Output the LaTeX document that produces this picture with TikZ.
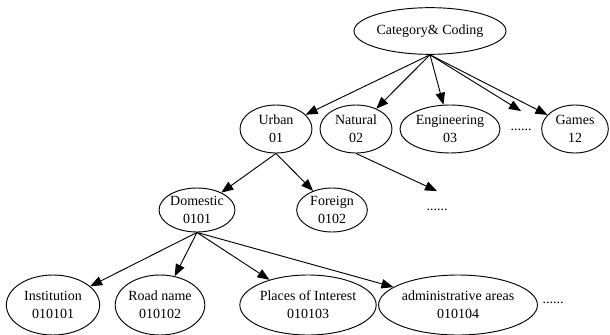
\documentclass[tikz,border=0pt]{standalone}
\usepackage{fontspec}
\setmainfont{Liberation Serif}
\usetikzlibrary{shapes.geometric,arrows.meta}
\begin{document}
\begin{tikzpicture}[x=0.75pt,y=-0.75pt,
  every node/.style={font=\fontsize{10.5}{13.5}\selectfont, align=center, inner sep=0pt},
  ell/.style={ellipse, draw, line width=0.7pt},
  dotsnode/.style={minimum height=28pt, minimum width=20pt},
  arr/.style={line width=0.7pt, -{Triangle[length=9pt,width=7pt]}}]
\useasboundingbox (0,0) rectangle (610,335);
% row 0
\node[ell, minimum width=114pt, minimum height=35pt] (root) at (430,31) {Category\& Coding};
% row 1
\node[ell, minimum width=54pt, minimum height=36pt] (urban) at (276,129) {Urban\\01};
\node[ell, minimum width=54pt, minimum height=36pt] (natural) at (356,129) {Natural\\02};
\node[ell, minimum width=75pt, minimum height=36pt] (eng) at (450,129) {Engineering\\03};
\node[dotsnode] (dots1) at (521,130) {......};
\node[ell, minimum width=50pt, minimum height=36pt] (games) at (575,129) {Games\\12};
% row 2
\node[ell, minimum width=53pt, minimum height=33pt] (dom) at (197,210) {Domestic\\0101};
\node[ell, minimum width=53pt, minimum height=33pt] (for) at (332,210) {Foreign\\0102};
\node[dotsnode] (dots2) at (437,210) {......};
% row 3
\node[ell, minimum width=70pt, minimum height=45pt] (inst) at (53,305) {Institution\\010101};
\node[ell, minimum width=62pt, minimum height=45pt] (road) at (160,305) {Road name\\010102};
\node[ell, minimum width=98pt, minimum height=45pt] (poi) at (308,305) {Places of Interest\\010103};
\node[ell, minimum width=113pt, minimum height=45pt] (adm) at (458,305) {administrative areas\\010104};
\node (dots3) at (553,303) {......};
% edges
\draw[arr] (root.south) -- (urban);
\draw[arr] (root.south) -- (natural);
\draw[arr] (root.south) -- (eng);
\draw[arr] (root.south) -- (dots1.north);
\draw[arr] (root.south) -- (games);
\draw[arr] (urban.south) -- (dom);
\draw[arr] (urban.south) -- (for);
\draw[arr] (natural.south) -- (dots2.north);
\draw[arr] (dom.south) -- (inst);
\draw[arr] (dom.south) -- (road);
\draw[arr] (dom.south) -- (poi);
\draw[arr] (dom.south) -- (adm);
\end{tikzpicture}
\end{document}
